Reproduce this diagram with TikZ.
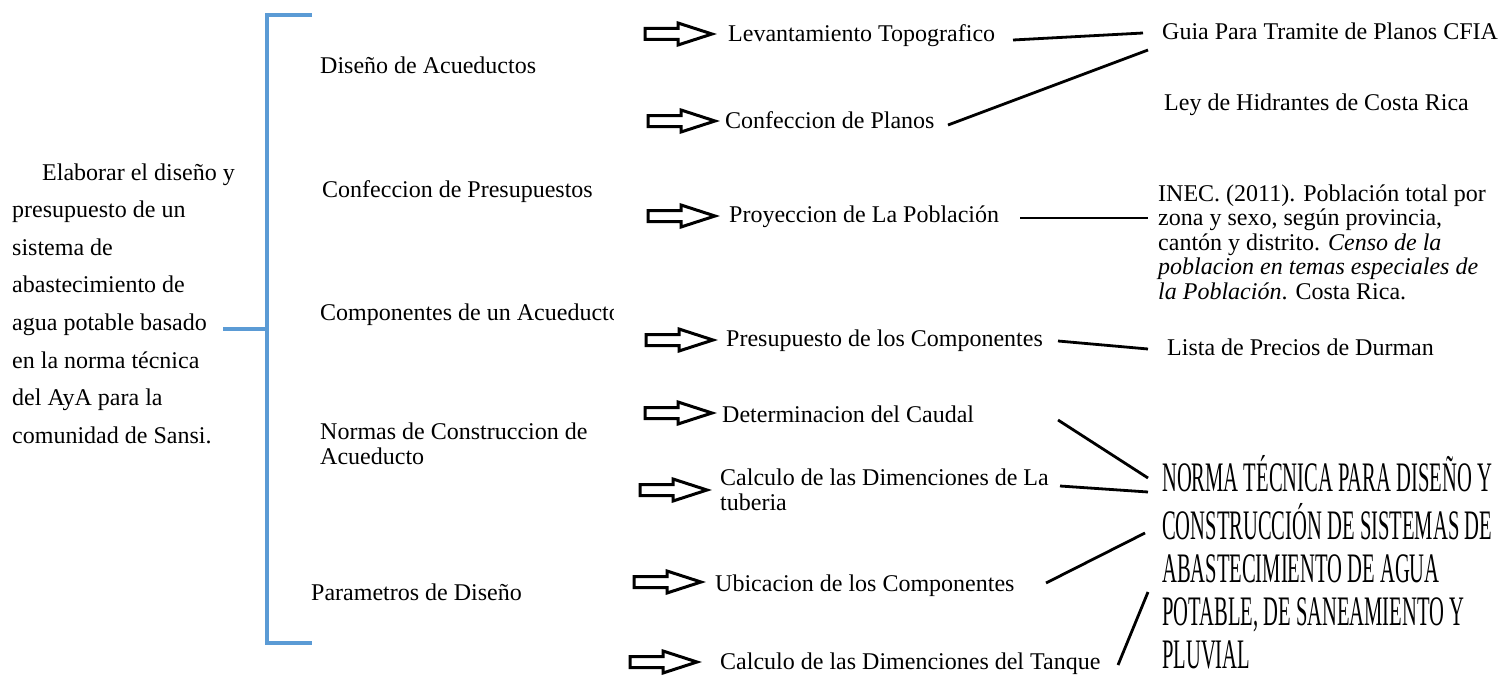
\documentclass[tikz,border=0pt]{standalone}
\usepackage{fontspec}
\usepackage{graphicx}
\setmainfont{Liberation Serif}
\newcommand{\ml}[1]{\begin{tabular}[t]{@{}l@{}}#1\end{tabular}}
\definecolor{brblue}{RGB}{91,155,213}
\tikzset{
  txt/.style={anchor=base west, inner sep=0pt, font=\fontsize{24}{25}\selectfont},
  lefttxt/.style={anchor=base west, inner sep=0pt, font=\fontsize{24}{37.6}\selectfont},
  conn/.style={line width=2.8pt, black},
  brk/.style={line width=3.6pt, brblue},
  blockarr/.pic={\draw[line width=3pt, line join=miter] (0,-5.5) -- (33,-5.5) -- (33,-11) -- (67,0) -- (33,11) -- (33,5.5) -- (0,5.5) -- cycle;}
}
\begin{document}
\begin{tikzpicture}[x=1pt,y=-1pt]
\useasboundingbox (0,0) rectangle (1504,677);
% left text
\node[lefttxt] (goal) at (12,180) {\ml{\hspace{30pt}Elaborar el diseño y\\ presupuesto de un\\ sistema de\\ abastecimiento de\\ agua potable basado\\ en la norma técnica\\ del AyA para la\\ comunidad de Sansi.}};
% bracket
\coordinate (bt) at (312,15);
\coordinate (bb) at (312,643);
\coordinate (bm) at (267,329);
\coordinate (bl) at (223,329);
\draw[brk] (bt) -- (267,15) -- (267,643) -- (bb);
\draw[brk] (bl) -- (bm);
% middle column
\node[txt] (m1) at (320,74) {Diseño de Acueductos};
\node[txt] (m2) at (322,197) {Confeccion de Presupuestos};
\begin{scope}
\clip (300,290) rectangle (613,335);
\node[txt] (m3) at (320,320) {Componentes de un Acueducto};
\end{scope}
\node[txt] (m4) at (320,439) {\ml{Normas de Construccion de\\ Acueducto}};
\node[txt] (m5) at (311,600) {Parametros de Diseño};
% arrows
\pic at (645,34) {blockarr};
\pic at (648,121) {blockarr};
\pic at (648,216) {blockarr};
\pic at (646,340) {blockarr};
\pic at (645,413) {blockarr};
\pic at (640,490) {blockarr};
\pic at (634,582) {blockarr};
\pic at (630,662) {blockarr};
% right column
\node[txt] (r1) at (728,42) {Levantamiento Topografico};
\node[txt] (r2) at (725,128) {Confeccion de Planos};
\node[txt] (r3) at (729,222) {Proyeccion de La Población};
\node[txt] (r4) at (726,346) {Presupuesto de los Componentes};
\node[txt] (r5) at (722,422) {Determinacion del Caudal};
\node[txt] (r6) at (720,485) {\ml{Calculo de las Dimenciones de La\\ tuberia}};
\node[txt] (r7) at (715,591) {Ubicacion de los Componentes};
\node[txt] (r8) at (720,669) {Calculo de las Dimenciones del Tanque};
% sources
\node[txt] (s1) at (1162,40) {Guia Para Tramite de Planos CFIA};
\node[txt] (s2) at (1164,110) {Ley de Hidrantes de Costa Rica};
\node[anchor=base west, inner sep=0pt, font=\fontsize{24}{24.5}\selectfont] (s3) at (1158,201) {\ml{INEC. (2011). Población total por\\ zona y sexo, según provincia,\\ cantón y distrito. \textit{Censo de la}\\ \textit{poblacion en temas especiales de}\\ \textit{la Población}. Costa Rica.}};
\node[txt] (s4) at (1167,355) {Lista de Precios de Durman};
\node[anchor=base west, inner sep=0pt, font=\fontsize{42}{42.8}\selectfont] (s5) at (1162,491) {\raisebox{0pt}[\height][0pt]{\scalebox{0.49}[1]{\ml{NORMA TÉCNICA PARA DISEÑO Y\\ CONSTRUCCIÓN DE SISTEMAS DE\\ ABASTECIMIENTO DE AGUA\\ POTABLE, DE SANEAMIENTO Y\\ PLUVIAL}}}};
% connectors
\coordinate (c1a) at (1013,40); \coordinate (c1b) at (1143,33);
\coordinate (c2a) at (948,125); \coordinate (c2b) at (1148,50);
\coordinate (c3a) at (1020,218); \coordinate (c3b) at (1148,218);
\coordinate (c4a) at (1058,341); \coordinate (c4b) at (1148,349);
\coordinate (c5a) at (1058,420); \coordinate (c5b) at (1148,478);
\coordinate (c6a) at (1060,486); \coordinate (c6b) at (1148,492);
\coordinate (c7a) at (1046,583); \coordinate (c7b) at (1145,533);
\coordinate (c8a) at (1118,665); \coordinate (c8b) at (1148,592);
\draw[conn] (c1a) -- (c1b);
\draw[conn] (c2a) -- (c2b);
\draw[conn] (c3a) -- (c3b);
\draw[conn] (c4a) -- (c4b);
\draw[conn] (c5a) -- (c5b);
\draw[conn] (c6a) -- (c6b);
\draw[conn] (c7a) -- (c7b);
\draw[conn] (c8a) -- (c8b);
\end{tikzpicture}
\end{document}
